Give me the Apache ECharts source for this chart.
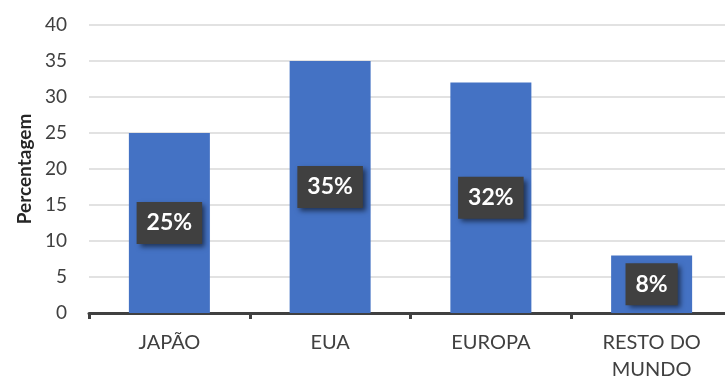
<!DOCTYPE html>
<html>
<head>
<meta charset="utf-8">
<script src="https://cdn.jsdelivr.net/npm/echarts@6/dist/echarts.min.js"></script>
<style>
  html, body { margin: 0; padding: 0; background: #ffffff; }
  #chart { width: 725px; height: 379px; }
</style>
</head>
<body>
<div id="chart"></div>
<script>
// Regional shares, in percent
const categories = ['JAPÃO', 'EUA', 'EUROPA', 'RESTO DO\nMUNDO'];
const shares = [25, 35, 32, 8];
const yTicks = { min: 0, max: 40, interval: 5 };

const FONT = 'Lato';
const chart = echarts.init(document.getElementById('chart'));

chart.setOption({
  animation: false,
  backgroundColor: '#ffffff',
  grid: { left: 89, top: 25, width: 643, height: 288, containLabel: false, outerBoundsMode: 'none' },
  xAxis: {
    type: 'category',
    data: categories,
    axisLine: { lineStyle: { color: '#404040', width: 3 } },
    axisTick: { show: true, length: 6, lineStyle: { color: '#404040', width: 3 } },
    axisLabel: { color: '#404040', fontFamily: FONT, fontSize: 20, margin: 16, lineHeight: 27 },
    splitLine: { show: false }
  },
  yAxis: {
    type: 'value',
    min: yTicks.min,
    max: yTicks.max,
    interval: yTicks.interval,
    name: 'Percentagem',
    nameLocation: 'middle',
    nameGap: 55,
    nameTextStyle: { color: '#262626', fontFamily: FONT, fontSize: 19, fontWeight: 'bold' },
    axisLine: { show: false },
    axisTick: { show: false },
    axisLabel: { color: '#404040', fontFamily: FONT, fontSize: 19, margin: 22 },
    splitLine: { lineStyle: { color: '#d9d9d9', width: 1.5 } }
  },
  series: [{
    type: 'bar',
    data: shares,
    barWidth: 81,
    itemStyle: { color: '#4472c4' },
    label: {
      show: true,
      position: 'inside',
      formatter: p => p.value + '%',
      color: '#ffffff',
      fontFamily: FONT,
      fontSize: 23,
      fontWeight: 'bold',
      backgroundColor: '#404040',
      padding: [10, 10, 9, 10],
      shadowColor: 'rgba(0,0,0,0.55)',
      shadowBlur: 5,
      shadowOffsetX: 3,
      shadowOffsetY: 3
    }
  }]
});
</script>
</body>
</html>
